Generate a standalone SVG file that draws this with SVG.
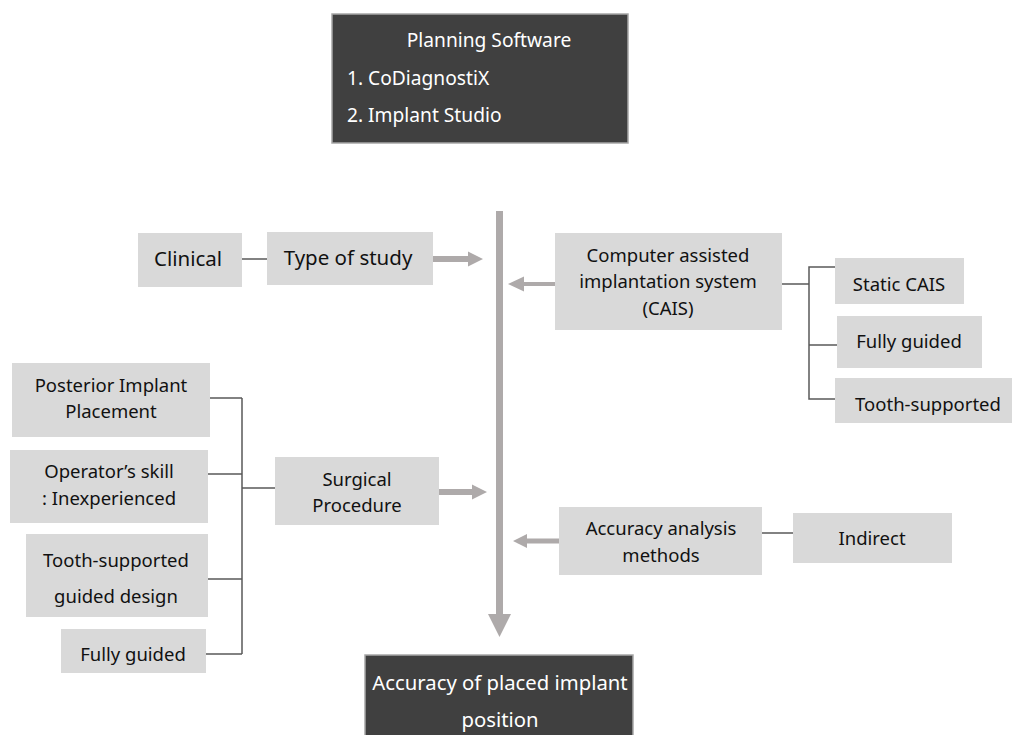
<svg xmlns="http://www.w3.org/2000/svg" width="1012" height="735" viewBox="0 0 1012 735">
<defs>
<style>
text{font-family:"Noto Sans","Open Sans","DejaVu Sans",sans-serif;font-size:18.5px;fill:#111;text-anchor:middle}
.big{font-size:20.5px}
.dark{fill:#404040;stroke:#a6a6a6;stroke-width:1.5}
.dtext{fill:#fff;font-size:19.2px}
.dbig{font-size:20.3px}
.lt{text-anchor:start}
.box{fill:#d9d9d9}
.ln{fill:none;stroke:#595959;stroke-width:1.5}
.arw{fill:#aeaaaa}
</style>
</defs>
<rect width="1012" height="735" fill="#fff"/>
<g id="planning">
<rect class="dark" x="332" y="14" width="296" height="129"/>
<text class="dtext" x="489" y="47">Planning Software</text>
<text class="dtext lt" x="347" y="85">1. CoDiagnostiX</text>
<text class="dtext lt" x="347" y="122">2. Implant Studio</text>
</g>
<g id="clinical"><rect class="box" x="138" y="233" width="104" height="54"/><text class="big" x="188" y="266">Clinical</text></g>
<g id="type"><rect class="box" x="267" y="232" width="166" height="53"/><text class="big" x="348" y="265">Type of study</text></g>
<g id="cais"><rect class="box" x="555" y="233" width="227" height="97"/>
<text x="668" y="262">Computer assisted</text><text x="668" y="288">implantation system</text><text x="668" y="315">(CAIS)</text></g>
<g id="static"><rect class="box" x="835" y="258" width="129" height="46"/><text x="899" y="291">Static CAIS</text></g>
<g id="fully1"><rect class="box" x="837" y="316" width="145" height="52"/><text x="909" y="348">Fully guided</text></g>
<g id="tooth1"><rect class="box" x="835" y="378" width="177" height="45"/><text x="928" y="411">Tooth-supported</text></g>
<g id="posterior"><rect class="box" x="12" y="363" width="198" height="74"/><text x="111" y="392">Posterior Implant</text><text x="111" y="418">Placement</text></g>
<g id="operator"><rect class="box" x="10" y="450" width="198" height="73"/><text x="109" y="478">Operator’s skill</text><text x="109" y="505">: Inexperienced</text></g>
<g id="tooth2"><rect class="box" x="26" y="534" width="182" height="83"/><text x="116" y="567">Tooth-supported</text><text x="116" y="603">guided design</text></g>
<g id="fully2"><rect class="box" x="61" y="629" width="145" height="44"/><text x="133" y="661">Fully guided</text></g>
<g id="surgical"><rect class="box" x="275" y="457" width="164" height="68"/><text x="357" y="486">Surgical</text><text x="357" y="512">Procedure</text></g>
<g id="accuracy"><rect class="box" x="559" y="507" width="203" height="68"/><text x="661" y="535">Accuracy analysis</text><text x="661" y="562">methods</text></g>
<g id="indirect"><rect class="box" x="793" y="513" width="159" height="50"/><text x="872" y="545">Indirect</text></g>
<g id="outcome"><rect class="dark" x="365" y="655" width="268" height="82"/>
<text class="dtext dbig" x="500" y="690">Accuracy of placed implant</text><text class="dtext dbig" x="500" y="727">position</text></g>
<g id="connectors">
<path class="ln" d="M242 259H267"/>
<path class="ln" d="M782 284H809M835 267H809V399H835M809 345H837"/>
<path class="ln" d="M210 398H242M208 474H242M208 579H242M206 654H242M242 398V654M242 488H275"/>
<path class="ln" d="M762 533H793"/>
<rect class="arw" x="496" y="211" width="7" height="404"/>
<path class="arw" d="M488 614H511L499.5 637Z"/>
<path class="arw" d="M433 256H468V251.5L483 259L468 266.5V262H433Z"/>
<path class="arw" d="M555 282H524V276.5L508 284L524 291.5V286H555Z"/>
<path class="arw" d="M439 489H472V484.5L487 492L472 499.5V495H439Z"/>
<path class="arw" d="M559 538.5H527V534L513 541L527 548V543.5H559Z"/>
</g>
</svg>
